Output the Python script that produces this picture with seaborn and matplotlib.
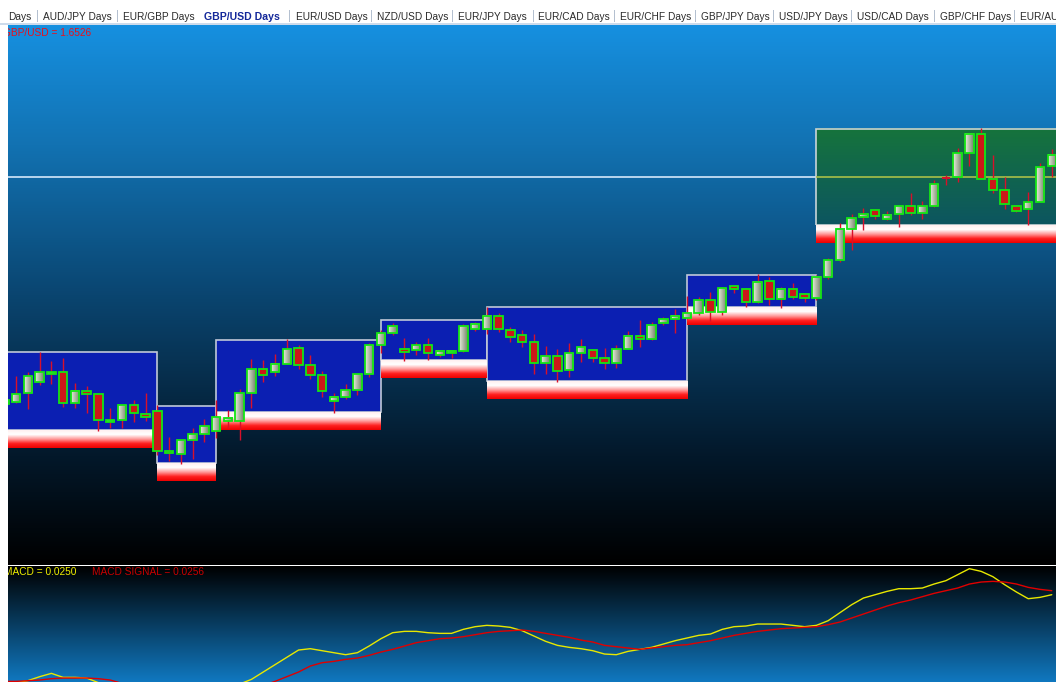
import numpy as np
import pandas as pd
import matplotlib
matplotlib.use('Agg')
import matplotlib.pyplot as plt
import seaborn as sns
from matplotlib.colors import LinearSegmentedColormap
from matplotlib.patches import Rectangle

# Tab bar of the chart window
tabs = ['Days', 'AUD/JPY Days', 'EUR/GBP Days', 'GBP/USD Days', 'EUR/USD Days', 'NZD/USD Days',
        'EUR/JPY Days', 'EUR/CAD Days', 'EUR/CHF Days', 'GBP/JPY Days', 'USD/JPY Days',
        'USD/CAD Days', 'GBP/CHF Days', 'EUR/AUD Days']
active_tab = 'GBP/USD Days'

# GBP/USD daily candles
opens = [1.5779, 1.5785, 1.5812, 1.5845, 1.5869, 1.5875, 1.5782, 1.5818, 1.5809, 1.5725,
         1.5731, 1.5776, 1.5749, 1.5758, 1.5638, 1.5629, 1.5671, 1.5689, 1.5698, 1.5728,
         1.5728, 1.5812, 1.5884, 1.5875, 1.5899, 1.5947, 1.5896, 1.5866, 1.5788, 1.5800,
         1.5821, 1.5869, 1.5956, 1.5992, 1.5944, 1.5941, 1.5956, 1.5926, 1.5932, 1.5938,
         1.6004, 1.6004, 1.6043, 1.6001, 1.5986, 1.5965, 1.5902, 1.5923, 1.5881, 1.5932,
         1.5941, 1.5917, 1.5902, 1.5944, 1.5983, 1.5974, 1.6022, 1.6034, 1.6037, 1.6052,
         1.6091, 1.6055, 1.6133, 1.6124, 1.6085, 1.6148, 1.6094, 1.6124, 1.6109, 1.6097,
         1.6160, 1.6211, 1.6304, 1.6340, 1.6361, 1.6334, 1.6349, 1.6373, 1.6352, 1.6373,
         1.6458, 1.6460, 1.6532, 1.6589, 1.6454, 1.6421, 1.6373, 1.6364, 1.6385, 1.6493]
highs = [1.5800, 1.5863, 1.5875, 1.5935, 1.5908, 1.5917, 1.5842, 1.5833, 1.5809, 1.5767,
         1.5776, 1.5791, 1.5812, 1.5776, 1.5680, 1.5671, 1.5707, 1.5734, 1.5791, 1.5761,
         1.5824, 1.5914, 1.5911, 1.5929, 1.5974, 1.5956, 1.5926, 1.5878, 1.5812, 1.5839,
         1.5869, 1.5962, 1.6001, 1.6022, 1.5977, 1.5965, 1.5977, 1.5941, 1.5938, 1.6019,
         1.6025, 1.6070, 1.6052, 1.6010, 1.6001, 1.5989, 1.5953, 1.5944, 1.5962, 1.5974,
         1.5941, 1.5947, 1.5956, 1.5998, 1.6031, 1.6025, 1.6040, 1.6064, 1.6103, 1.6100,
         1.6115, 1.6130, 1.6133, 1.6127, 1.6169, 1.6160, 1.6130, 1.6142, 1.6109, 1.6166,
         1.6217, 1.6322, 1.6349, 1.6367, 1.6364, 1.6358, 1.6373, 1.6412, 1.6388, 1.6451,
         1.6466, 1.6547, 1.6592, 1.6607, 1.6526, 1.6460, 1.6376, 1.6415, 1.6502, 1.6544]
lows = [1.5770, 1.5782, 1.5764, 1.5836, 1.5839, 1.5770, 1.5767, 1.5752, 1.5698, 1.5707,
        1.5707, 1.5725, 1.5728, 1.5626, 1.5608, 1.5599, 1.5614, 1.5665, 1.5677, 1.5707,
        1.5671, 1.5767, 1.5845, 1.5863, 1.5899, 1.5884, 1.5854, 1.5800, 1.5752, 1.5794,
        1.5806, 1.5860, 1.5932, 1.5986, 1.5908, 1.5926, 1.5911, 1.5920, 1.5917, 1.5935,
        1.5998, 1.5989, 1.5995, 1.5965, 1.5950, 1.5869, 1.5869, 1.5845, 1.5860, 1.5905,
        1.5905, 1.5884, 1.5887, 1.5944, 1.5950, 1.5971, 1.6016, 1.5992, 1.6034, 1.6046,
        1.6028, 1.6046, 1.6112, 1.6070, 1.6082, 1.6076, 1.6067, 1.6094, 1.6085, 1.6091,
        1.6154, 1.6205, 1.6241, 1.6301, 1.6334, 1.6331, 1.6310, 1.6346, 1.6334, 1.6370,
        1.6436, 1.6445, 1.6493, 1.6454, 1.6412, 1.6364, 1.6355, 1.6316, 1.6385, 1.6460]
closes = [1.5791, 1.5809, 1.5863, 1.5875, 1.5875, 1.5782, 1.5818, 1.5809, 1.5731, 1.5731,
          1.5776, 1.5752, 1.5740, 1.5638, 1.5632, 1.5671, 1.5689, 1.5713, 1.5740, 1.5737,
          1.5812, 1.5884, 1.5866, 1.5899, 1.5944, 1.5896, 1.5866, 1.5818, 1.5800, 1.5821,
          1.5869, 1.5956, 1.5992, 1.6013, 1.5935, 1.5956, 1.5932, 1.5938, 1.5938, 1.6013,
          1.6019, 1.6043, 1.6004, 1.5980, 1.5965, 1.5902, 1.5923, 1.5878, 1.5932, 1.5950,
          1.5917, 1.5902, 1.5944, 1.5983, 1.5974, 1.6016, 1.6034, 1.6043, 1.6052, 1.6091,
          1.6055, 1.6127, 1.6124, 1.6085, 1.6145, 1.6094, 1.6124, 1.6100, 1.6097, 1.6160,
          1.6211, 1.6304, 1.6337, 1.6349, 1.6343, 1.6346, 1.6373, 1.6352, 1.6373, 1.6439,
          1.6458, 1.6532, 1.6589, 1.6454, 1.6421, 1.6379, 1.6358, 1.6385, 1.6490, 1.6526]

# Range boxes (candle index where each box starts / ends, and its high / low)
box_start = [-2, 13, 18, 32, 41, 58, 69]
box_end = [13, 18, 32, 41, 58, 69, 92]
box_high = [1.5935, 1.5773, 1.5971, 1.6031, 1.6070, 1.6166, 1.6604]
box_low = [1.5701, 1.5602, 1.5755, 1.5911, 1.5848, 1.6070, 1.6316]
band_height = 0.0054

price_line = 1.6460
last_price = 1.6526

# MACD panel
macd = [0.0115, 0.0118, 0.0121, 0.0127, 0.0132, 0.0126, 0.0126, 0.0125, 0.0118, 0.0110,
        0.0103, 0.0097, 0.0092, 0.0088, 0.0085, 0.0086, 0.0091, 0.0098, 0.0104, 0.0110,
        0.0116, 0.0123, 0.0134, 0.0145, 0.0156, 0.0167, 0.0169, 0.0166, 0.0163, 0.0160,
        0.0163, 0.0173, 0.0184, 0.0193, 0.0195, 0.0195, 0.0193, 0.0192, 0.0192, 0.0198,
        0.0202, 0.0204, 0.0203, 0.0201, 0.0196, 0.0188, 0.0180, 0.0174, 0.0171, 0.0169,
        0.0166, 0.0161, 0.0160, 0.0165, 0.0168, 0.0171, 0.0176, 0.0181, 0.0185, 0.0189,
        0.0191, 0.0198, 0.0202, 0.0203, 0.0206, 0.0206, 0.0206, 0.0204, 0.0202, 0.0204,
        0.0211, 0.0223, 0.0235, 0.0245, 0.0250, 0.0255, 0.0259, 0.0259, 0.0260, 0.0266,
        0.0271, 0.0280, 0.0289, 0.0285, 0.0277, 0.0265, 0.0254, 0.0244, 0.0246, 0.0250]
macd_signal = [0.0120, 0.0120, 0.0121, 0.0122, 0.0124, 0.0125, 0.0125, 0.0125, 0.0124, 0.0122,
               0.0117, 0.0113, 0.0109, 0.0105, 0.0102, 0.0100, 0.0098, 0.0098, 0.0100, 0.0102,
               0.0106, 0.0110, 0.0114, 0.0120, 0.0127, 0.0134, 0.0143, 0.0148, 0.0150, 0.0153,
               0.0155, 0.0159, 0.0164, 0.0168, 0.0173, 0.0178, 0.0181, 0.0184, 0.0185, 0.0187,
               0.0190, 0.0193, 0.0195, 0.0196, 0.0197, 0.0195, 0.0192, 0.0189, 0.0186, 0.0182,
               0.0179, 0.0174, 0.0172, 0.0170, 0.0168, 0.0170, 0.0172, 0.0174, 0.0175, 0.0178,
               0.0181, 0.0185, 0.0189, 0.0192, 0.0195, 0.0197, 0.0199, 0.0200, 0.0201, 0.0202,
               0.0205, 0.0209, 0.0215, 0.0221, 0.0227, 0.0233, 0.0238, 0.0242, 0.0247, 0.0252,
               0.0256, 0.0260, 0.0266, 0.0269, 0.0270, 0.0269, 0.0266, 0.0261, 0.0258, 0.0256]

# Style
sns.set_theme(style='white')
plt.rcParams['font.family'] = ['Liberation Sans', 'DejaVu Sans']

W, H = 1056, 682
fig = plt.figure(figsize=(W / 100, H / 100), dpi=100, facecolor='white')
ax = fig.add_axes([8 / W, (H - 565) / H, (W - 8) / W, 540 / H])
ax2 = fig.add_axes([8 / W, 0, (W - 8) / W, 116 / H])

xlim = (0.314, 89.36)
ylim = (1.5296, 1.6916)
ylim2 = (0.011905, 0.029305)

main_cmap = LinearSegmentedColormap.from_list(
    'main', [(0, '#000000'), (0.2, '#03182a'), (0.5, '#0a4570'), (0.78, '#1272b2'), (1, '#1690e0')])
macd_cmap = LinearSegmentedColormap.from_list('macd', ['#1078c0', '#083c60', '#000000'])
band_cmap = LinearSegmentedColormap.from_list('band', ['#fff0f0', '#ffffff', '#ff9a9a', '#ff2020', '#ec0000'])
bull_cmap = LinearSegmentedColormap.from_list('bull', ['#e6ebdc', '#aeb8a2', '#72826a'])
green_cmap = LinearSegmentedColormap.from_list('gbox', ['#0c5455', '#17741d'])

vgrad = np.linspace(0, 1, 256).reshape(-1, 1)
hgrad = np.linspace(0, 1, 32).reshape(1, -1)

# backgrounds
ax.imshow(vgrad, extent=[xlim[0], xlim[1], ylim[0], ylim[1]], origin='lower',
          cmap=main_cmap, aspect='auto', zorder=0)
ax2.imshow(vgrad, extent=[xlim[0], xlim[1], ylim2[0], ylim2[1]], origin='lower',
           cmap=macd_cmap, aspect='auto', zorder=0)

# horizontal price line (behind the last box)
ax.hlines(price_line, xlim[0], box_start[-1], color='#d4e8fa', lw=1.2, zorder=1)

# range boxes with their red bands
for k in range(len(box_start)):
    x0, x1 = box_start[k], box_end[k]
    lo, hi = box_low[k], box_high[k]
    if k == len(box_start) - 1:
        ax.imshow(vgrad, extent=[x0, x1, lo, hi], origin='lower', cmap=green_cmap,
                  aspect='auto', alpha=0.8, zorder=1.5)
        ax.add_patch(Rectangle((x0, lo), x1 - x0, hi - lo, fill=False, ec='#c8d4d8', lw=1.2, zorder=1.6))
    else:
        ax.add_patch(Rectangle((x0, lo), x1 - x0, hi - lo, fc='#0b1fb2', ec='#c0c8d8', lw=1.2, zorder=1.5))
    ax.imshow(vgrad, extent=[x0, x1, lo - band_height, lo], origin='upper', cmap=band_cmap,
              aspect='auto', zorder=1.7)

ax.hlines(price_line, box_start[-1], xlim[1], color='#a8c048', lw=1.2, zorder=2)

# candles
bw = 0.72
for i in range(len(opens)):
    o, h, l, c = opens[i], highs[i], lows[i], closes[i]
    ax.vlines(i, l, h, color='#d8102a', lw=1.0, zorder=3)
    if c > o:
        ax.imshow(hgrad, extent=[i - bw / 2, i + bw / 2, o, c], cmap=bull_cmap,
                  aspect='auto', zorder=4)
        ax.add_patch(Rectangle((i - bw / 2, o), bw, c - o, fill=False, ec='#14e614', lw=1.3, zorder=5))
    elif c < o:
        ax.add_patch(Rectangle((i - bw / 2, c), bw, o - c, fc='#cc1818', ec='#14e614', lw=1.3, zorder=5))
    else:
        ax.hlines(o, i - bw / 2, i + bw / 2, color='#d8102a', lw=1.4, zorder=5)

ax.text(-5 / 1048, (565 - 33.5) / 540, f'GBP/USD = {last_price:.4f}', transform=ax.transAxes,
        color='#e8101c', fontsize=7.3, va='center', ha='left', clip_on=True, zorder=6)

# MACD lines
df = pd.DataFrame({'idx': np.arange(len(macd)), 'macd': macd, 'signal': macd_signal})
sns.lineplot(data=df, x='idx', y='macd', color='#e8e800', lw=1.0, ax=ax2, zorder=2)
sns.lineplot(data=df, x='idx', y='signal', color='#e00000', lw=1.0, ax=ax2, zorder=3)
ax2.text(-4 / 1048, (682 - 572) / 116, f'MACD = {macd[-1]:.4f}', transform=ax2.transAxes,
         color='#f0f000', fontsize=7.3, va='center', ha='left', clip_on=True, zorder=6)
ax2.text(84 / 1048, (682 - 572) / 116, f'MACD SIGNAL = {macd_signal[-1]:.4f}', transform=ax2.transAxes,
         color='#c80000', fontsize=7.3, va='center', ha='left', clip_on=True, zorder=6)

for a, yl in ((ax, ylim), (ax2, ylim2)):
    a.set_xlim(*xlim)
    a.set_ylim(*yl)
    a.axis('off')

# tab bar
tab_left = [8.5, 43, 123, 204, 296, 377, 458, 538, 620, 701, 779, 857, 940, 1020]
sep_x = [37, 117, None, 289, 371, 452, 533, 614, 695, 773, 851, 934, 1014]
ty = 1 - 16.5 / H
for lbl, x in zip(tabs, tab_left):
    if lbl == active_tab:
        fig.text(x / W, ty, lbl, color='#14289a', fontsize=7.6, fontweight='bold', va='center', ha='left')
    else:
        fig.text(x / W, ty, lbl, color='#2a2a2a', fontsize=7.3, va='center', ha='left')
for sx in sep_x:
    if sx is not None:
        fig.add_artist(Rectangle((sx / W, 1 - 22 / H), 1 / W, 12 / H, transform=fig.transFigure,
                                 fc='#b4c0d0', ec='none'))
fig.add_artist(Rectangle((0, 1 - 25 / H), 1, 2 / H, transform=fig.transFigure, fc='#cddbeb', ec='none'))

fig.savefig('out.png', dpi=100, facecolor='white')
